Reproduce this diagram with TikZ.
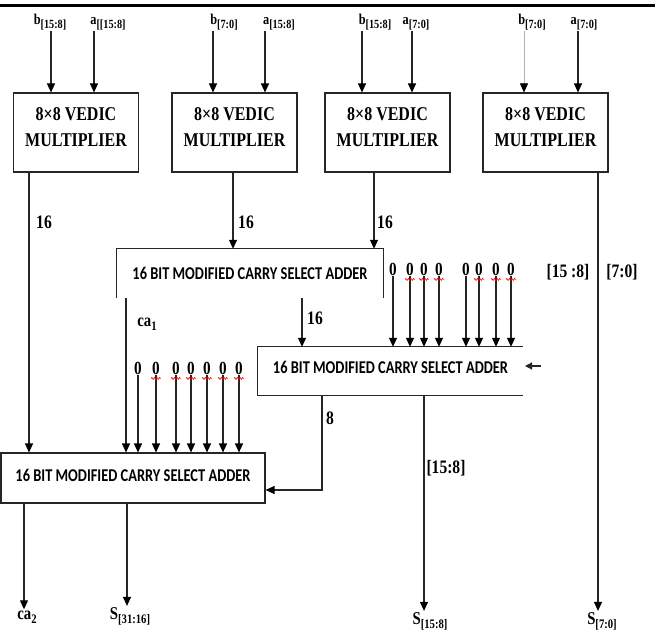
\documentclass[tikz,border=0pt]{standalone}
\usepackage{fontspec}
\setmainfont{Liberation Serif}[FakeStretch=0.82]
\newfontfamily\addfont{Carlito}[FakeStretch=0.8]
\usetikzlibrary{arrows.meta,decorations.pathmorphing}
\newcommand\bsub[1]{\raisebox{-3.5pt}{\fontsize{12.5}{12.5}\selectfont #1}}
\newcommand\osub[1]{\raisebox{-4.5pt}{\fontsize{13}{13}\selectfont #1}}

\begin{document}
\begin{tikzpicture}[x=1pt,y=-1pt]
  % Styles for blocks, wires and labels
  \tikzset{
    box/.style={draw=black!85, line width=1.1pt},
    wire/.style={draw=black!85, line width=1.1pt},
    arr/.style={wire, -{Triangle[length=9pt,width=8pt,color=black]}},
    faint/.style={arr, draw=black!30, line width=0.6pt},
    mult/.style={box, minimum width=125pt, minimum height=79pt, inner sep=0pt, align=center,
                 font=\fontsize{19.5}{26}\selectfont\bfseries, text depth=11pt},
    adder/.style={minimum height=49pt, inner sep=0pt, font=\addfont\bfseries\fontsize{18}{18}\selectfont},
    inlbl/.style={font=\fontsize{15}{15}\selectfont\bfseries, inner sep=1pt, anchor=base},
    outlbl/.style={font=\fontsize{18}{18}\selectfont\bfseries, inner sep=1pt, anchor=base},
    num/.style={font=\fontsize{19}{19}\selectfont\bfseries, inner sep=1pt},
    zero/.style={font=\fontsize{18.5}{18.5}\selectfont\bfseries, inner sep=1pt},
    squig/.style={red, line width=0.6pt, decorate, decoration={snake, amplitude=1pt, segment length=2.6pt}}
  }

  \useasboundingbox (0,0) rectangle (655,631);
  % heavy rule along the top
  \draw[line width=3.5pt] (0,5.5) -- (655,5.5);

  % The four 8x8 multipliers
  \foreach \cx [count=\i] in {76,234.5,387.5,545.5}
    \node[mult] (m\i) at (\cx,132.5) {8×8 VEDIC\\MULTIPLIER};

  % Operand inputs: label x / arrow x / multiplier / text / style
  \foreach \lx/\ax/\m/\txt/\st [count=\i] in {
      50/51/1/{b\bsub{[15:8]}}/arr,
      108/94/1/{a\bsub{[[15:8]}}/arr,
      224/213/2/{b\bsub{[7:0]}}/arr,
      279/265/2/{a\bsub{[15:8]}}/arr,
      375/362/3/{b\bsub{[15:8]}}/arr,
      416/412/3/{a\bsub{[7:0]}}/arr,
      532/524/4/{b\bsub{[7:0]}}/faint,
      584/578/4/{a\bsub{[7:0]}}/arr%
  } {
    \node[inlbl] (in\i) at (\lx,25) {\txt};
    \draw[\st] (in\i.south -| \ax,0) -- (m\m.north -| \ax,0);
  }

  % Carry select adders (two drawn open)
  \node[adder, minimum width=266pt] (ad1) at (250,273.5) {16 BIT MODIFIED CARRY SELECT ADDER};
  \draw[wire] (ad1.south west) -- (ad1.north west) -- (ad1.north east) -- (ad1.south east);
  \node[adder, minimum width=265pt, minimum height=48pt, text depth=7pt] (ad2) at (390.5,371) {16 BIT MODIFIED CARRY SELECT ADDER};
  \draw[wire] (ad2.north east) -- (ad2.north west) -- (ad2.south west) -- (ad2.south east);
  \node[adder, box, minimum width=264pt, minimum height=50pt, text depth=6pt] (ad3) at (133,478) {16 BIT MODIFIED CARRY SELECT ADDER};

  % Output labels
  \node[outlbl] (ca2) at (27,619) {ca\osub{2}};
  \node[outlbl] (s1) at (130,619) {S\osub{[31:16]}};
  \node[outlbl] (s3) at (430,624) {S\osub{[15:8]}};
  \node[outlbl] (s4) at (602,624) {S\osub{[7:0]}};

  % Multiplier outputs
  \draw[arr] (m1.south -| 29,0) -- (ad3.north -| 29,0);
  \draw[arr] (m2.south -| 233,0) -- (ad1.north -| 233,0);
  \draw[arr] (m3.south -| 374,0) -- (ad1.north -| 374,0);
  \draw[arr] (m4.south -| 598,0) -- (s4.north -| 598,0);
  \node[num] (w1) at (44,222) {16};
  \node[num] (w2) at (246,222) {16};
  \node[num] (w3) at (385,222) {16};

  % First adder outputs
  \draw[arr] (ad1.south -| 126,0) -- (ad3.north -| 126,0);
  \node[outlbl] (ca1) at (147,326) {ca\osub{1}};
  \draw[arr] (ad1.south -| 302,0) -- (ad2.north -| 302,0);
  \node[num] (w4) at (315,318) {16};

  % Second adder outputs
  \coordinate (k8) at (322,490);
  \draw[arr] (ad2.south -| k8) -- (k8) -- (ad3.east |- k8);
  \node[num] (w5) at (330,418) {8};
  \draw[arr] (ad2.south -| 424,0) -- (s3.north -| 424,0);
  \node[num] (w6) at (446,468) {[15:8]};

  % carry in of the second adder
  \coordinate (cin) at (541,366);
  \coordinate (cend) at (525,366);
  \draw[wire, -{Triangle[length=7pt,width=7pt]}] (cin) -- (cend);

  % slice labels either side of the low product
  \node[num] (w7) at (568,272) {[15 :8]};
  \node[num] (w8) at (622,272) {[7:0]};

  % Third adder outputs
  \draw[arr] (ad3.south -| 24,0) -- (ca2.north -| 24,0);
  \draw[arr] (ad3.south -| 127,0) -- (s1.north -| 127,0);

  % Zero inputs of the last adder
  \foreach \zx/\sq [count=\i] in {138/0,156/1,176/1,191/1,207/1,223/1,239/1} {
    \node[zero] (za\i) at (\zx,368) {0};
    \draw[arr] (za\i.south) -- (za\i.south |- ad3.north);
    \ifnum\sq=1 \draw[squig] ([yshift=-3pt]za\i.south west) -- ([yshift=-3pt]za\i.south east); \fi
  }

  % Zero inputs of the second adder
  \foreach \zx/\sq [count=\i] in {393/0,410/1,424/1,439/1,466/0,479/1,496/1,511/1} {
    \node[zero] (zb\i) at (\zx,269) {0};
    \draw[arr] (zb\i.south) -- (zb\i.south |- ad2.north);
    \ifnum\sq=1 \draw[squig] ([yshift=-3pt]zb\i.south west) -- ([yshift=-3pt]zb\i.south east); \fi
  }
\end{tikzpicture}
\end{document}
